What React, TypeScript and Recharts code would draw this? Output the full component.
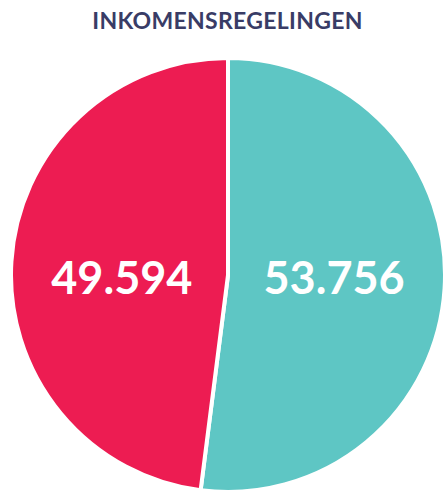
import React from "react";
import { PieChart, Pie, Cell } from "recharts";

const categories = ["Regeling B", "Regeling A"];
const values = [53756, 49594];
const colors = ["#5EC6C4", "#ED1C52"];
const valueLabels = ["53.756", "49.594"];

const data = categories.map((name, i) => ({ name, value: values[i] }));

const RADIAN = Math.PI / 180;

// labels sit on the horizontal centre line, left/right of the centre
const renderLabel = (props: any) => {
  const { cx, cy, midAngle, outerRadius, index } = props;
  const r = outerRadius * 0.49;
  const x = cx + r * Math.cos(-midAngle * RADIAN);
  return (
    <text
      x={x}
      y={cy + 2}
      fill="#ffffff"
      textAnchor="middle"
      dominantBaseline="central"
      fontFamily="Lato, sans-serif"
      fontWeight={700}
      fontSize={45}
    >
      {valueLabels[index]}
    </text>
  );
};

export default function App() {
  return (
    <div
      style={{
        position: "absolute",
        left: 0,
        top: 0,
        width: 445,
        height: 491,
        background: "#ffffff",
        overflow: "hidden",
      }}
    >
      <div
        style={{
          position: "absolute",
          top: 6,
          left: 0,
          width: 455,
          textAlign: "center",
          fontFamily: "Lato, sans-serif",
          fontWeight: 700,
          fontSize: 23,
          color: "#393c66",
          letterSpacing: 0.3,
        }}
      >
        INKOMENSREGELINGEN
      </div>
      <PieChart
        width={445}
        height={491}
        margin={{ top: 0, right: 0, bottom: 0, left: 0 }}
        style={{ position: "absolute", left: 0, top: 0 }}
      >
        <Pie
          data={data}
          dataKey="value"
          nameKey="name"
          cx={228}
          cy={275}
          outerRadius={217}
          startAngle={90}
          endAngle={-270}
          stroke="#ffffff"
          strokeWidth={4}
          label={renderLabel}
          labelLine={false}
          isAnimationActive={false}
        >
          {data.map((d, i) => (
            <Cell key={d.name} fill={colors[i]} />
          ))}
        </Pie>
      </PieChart>
    </div>
  );
}
